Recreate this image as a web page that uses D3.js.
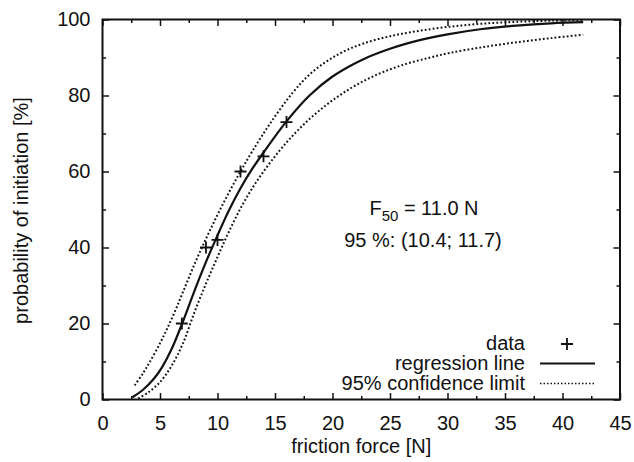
<!DOCTYPE html>
<html>
<head>
<meta charset="utf-8">
<script src="https://cdn.jsdelivr.net/npm/d3@7"></script>
<style>
  body { margin: 0; background: #fff; }
  text { font-family: "Liberation Sans", Arial, sans-serif; fill: #111; }
</style>
</head>
<body>
<div id="chart"></div>
<script>
// measured points (friction force [N], probability [%])
const dataForce = [6.9, 9.0, 10.0, 12.0, 14.0, 16.0];
const dataProb = [20, 40, 42, 60, 64, 73];

// regression line
const fitX = [2.6, 3.5, 4.5, 5.2, 6.0, 6.9, 8.0, 9.0, 10.0, 11.0, 12.0, 13.0, 14.0, 16.0, 18.0, 20.0, 22.5, 25.0, 27.5, 30.0, 33.0, 36.0, 39.0, 41.8];
const fitY = [0.6, 2.5, 5.6, 8.6, 13.2, 19.8, 28.6, 36.2, 43.2, 49.8, 55.6, 60.6, 65.0, 73.2, 80.0, 85.0, 89.3, 92.3, 94.5, 96.1, 97.5, 98.4, 99.0, 99.3];

// 95% confidence limits
const upperX = [2.8, 3.5, 4.1, 5.0, 5.6, 6.3, 7.0, 8.0, 9.0, 10.0, 11.0, 12.0, 13.0, 14.5, 16.5, 18.0, 19.5, 21.0, 22.7, 25.0, 27.5, 30.2, 33.0, 36.0, 39.0, 41.8];
const upperY = [3.7, 6.8, 9.8, 14.8, 18.5, 23.2, 28.3, 35.6, 42.3, 48.6, 54.5, 60.0, 65.2, 72.3, 80.6, 85.5, 89.0, 91.6, 93.7, 95.6, 97.0, 98.1, 98.9, 99.4, 99.7, 99.9];
const lowerX = [3.1, 4.0, 5.0, 6.0, 7.0, 8.0, 9.0, 10.0, 11.0, 12.2, 13.5, 15.0, 16.5, 18.0, 19.5, 21.0, 22.7, 24.5, 26.5, 28.5, 30.2, 33.0, 36.0, 39.0, 41.8];
const lowerY = [0.3, 1.9, 4.6, 8.8, 14.8, 23.0, 30.5, 37.5, 44.2, 51.4, 57.8, 64.0, 69.3, 73.8, 77.6, 80.8, 83.8, 86.3, 88.4, 90.0, 91.2, 92.7, 94.0, 95.1, 96.0];

const xTicks = [0, 5, 10, 15, 20, 25, 30, 35, 40, 45];
const xMinor = [2.5, 7.5, 12.5, 17.5, 22.5, 27.5, 32.5, 37.5, 42.5];
const yTicks = [0, 20, 40, 60, 80, 100];
const yMinor = [10, 30, 50, 70, 90];

const legendLabels = ["data", "regression line", "95% confidence limit"];

const width = 634, height = 462;
const margin = {top: 19.5, right: 14, bottom: 62.5, left: 102.5};

const svg = d3.select("#chart").append("svg")
    .attr("width", width)
    .attr("height", height);

const x = d3.scaleLinear().domain([0, 45]).range([margin.left, width - margin.right]);
const y = d3.scaleLinear().domain([0, 100]).range([height - margin.bottom, margin.top]);

const major = 6.5, minor = 3.5;

function styleAxis(g) {
    g.select(".domain").remove();
    g.selectAll(".tick line").attr("stroke", "#111").attr("stroke-width", 1.5);
    g.selectAll(".tick text").attr("font-size", 20).attr("fill", "#111")
        .attr("font-family", "'Liberation Sans', Arial, sans-serif");
}

// bottom / top
svg.append("g").attr("transform", `translate(0,${y(0)})`)
    .call(d3.axisBottom(x).tickValues(xTicks).tickSize(-major).tickPadding(16))
    .call(styleAxis);
svg.append("g").attr("transform", `translate(0,${y(0)})`)
    .call(d3.axisBottom(x).tickValues(xMinor).tickSize(-minor).tickFormat(""))
    .call(styleAxis);
svg.append("g").attr("transform", `translate(0,${y(100)})`)
    .call(d3.axisTop(x).tickValues(xTicks).tickSize(-major).tickFormat(""))
    .call(styleAxis);
svg.append("g").attr("transform", `translate(0,${y(100)})`)
    .call(d3.axisTop(x).tickValues(xMinor).tickSize(-minor).tickFormat(""))
    .call(styleAxis);

// left / right
svg.append("g").attr("transform", `translate(${x(0)},0)`)
    .call(d3.axisLeft(y).tickValues(yTicks).tickSize(-major).tickPadding(12))
    .call(styleAxis);
svg.append("g").attr("transform", `translate(${x(0)},0)`)
    .call(d3.axisLeft(y).tickValues(yMinor).tickSize(-minor).tickFormat(""))
    .call(styleAxis);
svg.append("g").attr("transform", `translate(${x(45)},0)`)
    .call(d3.axisRight(y).tickValues(yTicks).tickSize(-major).tickFormat(""))
    .call(styleAxis);
svg.append("g").attr("transform", `translate(${x(45)},0)`)
    .call(d3.axisRight(y).tickValues(yMinor).tickSize(-minor).tickFormat(""))
    .call(styleAxis);

// frame
svg.append("rect")
    .attr("x", x(0)).attr("y", y(100))
    .attr("width", x(45) - x(0)).attr("height", y(0) - y(100))
    .attr("fill", "none").attr("stroke", "#111").attr("stroke-width", 2);

const line = d3.line()
    .x(d => x(d[0]))
    .y(d => y(d[1]))
    .curve(d3.curveCatmullRom.alpha(0.5));

const dotted = "1.8,2.2";

svg.append("path")
    .datum(d3.zip(upperX, upperY))
    .attr("d", line)
    .attr("fill", "none").attr("stroke", "#111")
    .attr("stroke-width", 2).attr("stroke-dasharray", dotted);

svg.append("path")
    .datum(d3.zip(lowerX, lowerY))
    .attr("d", line)
    .attr("fill", "none").attr("stroke", "#111")
    .attr("stroke-width", 2).attr("stroke-dasharray", dotted);

svg.append("path")
    .datum(d3.zip(fitX, fitY))
    .attr("d", line)
    .attr("fill", "none").attr("stroke", "#111")
    .attr("stroke-width", 2.2);

// data crosses
function plus(sel, s) {
    sel.append("path")
        .attr("d", `M${-s},0H${s}M0,${-s}V${s}`)
        .attr("stroke", "#111").attr("stroke-width", 1.8).attr("fill", "none");
}

svg.append("g")
    .selectAll("g")
    .data(d3.zip(dataForce, dataProb))
    .join("g")
    .attr("transform", d => `translate(${x(d[0])},${y(d[1])})`)
    .each(function() { plus(d3.select(this), 6); });

// annotation
const note = svg.append("g");
const f50 = note.append("text")
    .attr("x", 424).attr("y", 215)
    .attr("text-anchor", "middle")
    .attr("font-size", 20);
f50.append("tspan").text("F");
f50.append("tspan").attr("font-size", 15).attr("dy", 6).text("50");
f50.append("tspan").attr("dy", -6).text(" = 11.0 N");

note.append("text")
    .attr("x", 423).attr("y", 247)
    .attr("text-anchor", "middle")
    .attr("font-size", 20)
    .text("95 %: (10.4; 11.7)");

// legend
const legend = svg.append("g");
const legY = [350, 370, 390];
legend.selectAll("text")
    .data(legendLabels)
    .join("text")
    .attr("x", 525)
    .attr("y", (d, i) => legY[i])
    .attr("text-anchor", "end")
    .attr("font-size", 20)
    .text(d => d);

plus(legend.append("g").attr("transform", `translate(567,${legY[0] - 6})`), 6);
legend.append("line")
    .attr("x1", 540).attr("x2", 595)
    .attr("y1", legY[1] - 6.5).attr("y2", legY[1] - 6.5)
    .attr("stroke", "#111").attr("stroke-width", 2.2);
legend.append("line")
    .attr("x1", 540).attr("x2", 594)
    .attr("y1", legY[2] - 6.5).attr("y2", legY[2] - 6.5)
    .attr("stroke", "#111").attr("stroke-width", 1.6).attr("stroke-dasharray", "1.5,2");

// axis titles
svg.append("text")
    .attr("x", x(22.5)).attr("y", 453)
    .attr("text-anchor", "middle")
    .attr("font-size", 20)
    .text("friction force [N]");

svg.append("text")
    .attr("transform", `translate(28,${y(50) + 1}) rotate(-90)`)
    .attr("text-anchor", "middle")
    .attr("font-size", 20)
    .text("probability of initiation [%]");
</script>
</body>
</html>
